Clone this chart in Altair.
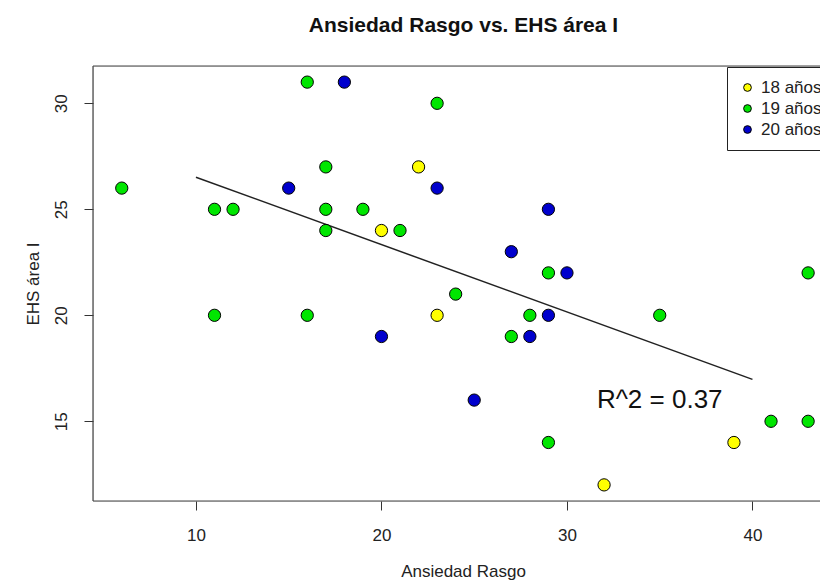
import altair as alt
import pandas as pd

# ---- data ----
ansiedad_18 = [20, 22, 23, 32, 39]
ehs_18 = [24, 27, 20, 12, 14]
ansiedad_19 = [6, 11, 12, 11, 16, 16, 17, 17, 17, 19, 21, 23, 24, 27, 28, 29, 29, 35, 41, 43, 43]
ehs_19 = [26, 25, 25, 20, 31, 20, 27, 25, 24, 25, 24, 30, 21, 19, 20, 22, 14, 20, 15, 15, 22]
ansiedad_20 = [15, 18, 20, 23, 25, 27, 28, 29, 30, 29]
ehs_20 = [26, 31, 19, 26, 16, 23, 19, 25, 22, 20]
grupos = ["18 años", "19 años", "20 años"]
colores = ["#FFFF00", "#00E600", "#0000CD"]
x_ticks = [10, 20, 30, 40]
y_ticks = [15, 20, 25, 30]
fit_extent = [10, 40]
r2_label = ["R^2 = 0.37"]
r2_x = [35]
r2_y = [16]

FONT = "Liberation Sans"
W, H = 727, 435

rows = []
for g, xs, ys in zip(grupos, [ansiedad_18, ansiedad_19, ansiedad_20], [ehs_18, ehs_19, ehs_20]):
    for a, b in zip(xs, ys):
        rows.append({"x": a, "y": b, "grupo": g})
df = pd.DataFrame(rows)
df_txt = pd.DataFrame({"x": r2_x, "y": r2_y, "t": r2_label})

xscale = alt.Scale(domain=[4.45, 43.64], nice=False, zero=False)
yscale = alt.Scale(domain=[11.24, 31.76], nice=False, zero=False)

xaxis = alt.Axis(values=x_ticks, grid=False, domain=False, tickSize=9, tickColor="#333",
                 labelFontSize=17, labelColor="#222", labelPadding=17, labelFont=FONT,
                 title="Ansiedad Rasgo", titleFontSize=17, titleFontWeight="normal",
                 titleColor="#222", titleFont=FONT, titlePadding=20, titleX=370)
yaxis = alt.Axis(values=y_ticks, grid=False, domain=False, tickSize=9, tickColor="#333",
                 labelFontSize=17, labelColor="#222", labelPadding=14, labelAngle=-90,
                 labelAlign="center", labelBaseline="bottom", labelFont=FONT,
                 title="EHS área I", titleFontSize=17, titleFontWeight="normal",
                 titleColor="#222", titleFont=FONT, titlePadding=10)

legend = alt.Legend(orient="none", legendX=634, legendY=1, title=None,
                    labelFontSize=17, labelFont=FONT, labelColor="#222",
                    symbolType="circle", symbolSize=60, symbolStrokeColor="black",
                    symbolStrokeWidth=1, strokeColor="#222", fillColor="white",
                    padding=12, rowPadding=3, labelOffset=5)

points = alt.Chart(df).mark_circle(size=150, stroke="black", strokeWidth=1, opacity=1).encode(
    x=alt.X("x:Q", scale=xscale, axis=xaxis),
    y=alt.Y("y:Q", scale=yscale, axis=yaxis),
    color=alt.Color("grupo:N", scale=alt.Scale(domain=grupos, range=colores), legend=legend),
)

fit = alt.Chart(df).transform_regression("x", "y", extent=fit_extent).mark_line(
    color="#222", strokeWidth=1.5).encode(
    x=alt.X("x:Q", scale=xscale), y=alt.Y("y:Q", scale=yscale))

txt = alt.Chart(df_txt).mark_text(fontSize=26, font=FONT, color="#111", align="center",
                                  baseline="middle").encode(
    x=alt.X("x:Q", scale=xscale), y=alt.Y("y:Q", scale=yscale), text="t:N")

box_df = pd.DataFrame({"d": [0]})
left = alt.Chart(box_df).mark_rule(color="#444", strokeWidth=1.2).encode(
    x=alt.value(0), y=alt.value(0), y2=alt.value(H))
top = alt.Chart(box_df).mark_rule(color="#444", strokeWidth=1.2).encode(
    x=alt.value(0), x2=alt.value(W + 10), y=alt.value(0))
bottom = alt.Chart(box_df).mark_rule(color="#444", strokeWidth=1.2).encode(
    x=alt.value(0), x2=alt.value(W + 10), y=alt.value(H))

chart = alt.layer(left, top, bottom, fit, points, txt).properties(
    width=W, height=H,
    autosize="none",
    padding={"left": 85, "top": 58, "right": 0, "bottom": 80},
    title=alt.TitleParams("Ansiedad Rasgo vs. EHS área I", fontSize=21, font=FONT,
                          fontWeight="bold", color="#111", anchor="middle",
                          baseline="alphabetic", offset=12, dx=7, frame="group"),
).configure_view(stroke=None).configure(background="white")

chart.save("out.html", embed_options={"renderer": "svg", "actions": False})
